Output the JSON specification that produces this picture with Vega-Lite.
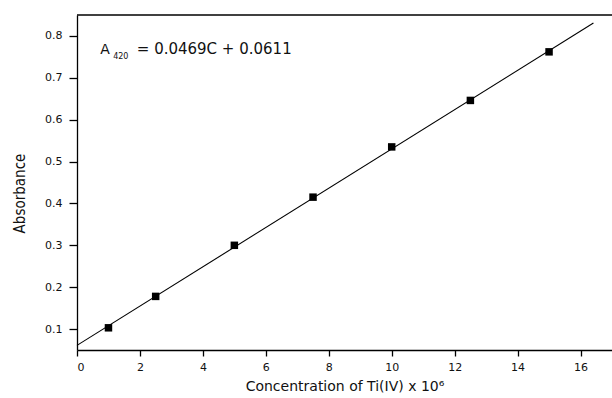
{
  "$schema": "https://vega.github.io/schema/vega-lite/v6.json",
  "width": 535,
  "height": 335,
  "autosize": {"type": "none"},
  "padding": {"left": 77, "top": 15, "right": 0, "bottom": 48},
  "background": "white",
  "config": {
    "view": {"stroke": null},
    "axis": {
      "grid": false,
      "domainColor": "#000000",
      "domainWidth": 1.3,
      "tickColor": "#000000",
      "tickWidth": 1.3,
      "labelColor": "#111111",
      "labelFont": "DejaVu Sans",
      "labelFontSize": 11,
      "titleColor": "#111111",
      "titleFontWeight": "normal"
    }
  },
  "datasets": {
    "points": [
      {"C": 1, "A": 0.103},
      {"C": 2.5, "A": 0.178},
      {"C": 5, "A": 0.300},
      {"C": 7.5, "A": 0.415},
      {"C": 10, "A": 0.535},
      {"C": 12.5, "A": 0.646},
      {"C": 15, "A": 0.762}
    ],
    "fit": [
      {"C": 0, "A": 0.0611},
      {"C": 16.41, "A": 0.8307}
    ],
    "eqMain": [{"C": 0.74, "A": 0.757, "t": "A"}],
    "eqSub": [{"C": 1.15, "A": 0.745, "t": "420"}],
    "eqRest": [{"C": 1.9, "A": 0.757, "t": "= 0.0469C + 0.0611"}]
  },
  "layer": [
    {
      "data": {"name": "fit"},
      "mark": {"type": "line", "color": "#000000", "strokeWidth": 1.1},
      "encoding": {
        "x": {
          "field": "C", "type": "quantitative",
          "scale": {"domain": [0, 17], "nice": false, "zero": false},
          "axis": {
            "title": "Concentration of Ti(IV) x 10⁶",
            "titleFont": "DejaVu Sans",
            "titleFontSize": 14,
            "titlePadding": 7,
            "values": [0, 2, 4, 6, 8, 10, 12, 14, 16],
            "format": "d",
            "tickSize": 6,
            "labelPadding": 5
          }
        },
        "y": {
          "field": "A", "type": "quantitative",
          "scale": {"domain": [0.05, 0.85], "nice": false, "zero": false},
          "axis": {
            "title": "Absorbance",
            "titleFont": "DejaVu Sans Condensed, Roboto, Liberation Sans",
            "titleFontSize": 15,
            "titlePadding": 17,
            "titleY": 178,
            "values": [0.1, 0.2, 0.3, 0.4, 0.5, 0.6, 0.7, 0.8],
            "format": ".1f",
            "tickSize": 8,
            "labelPadding": 7
          }
        }
      }
    },
    {
      "data": {"name": "points"},
      "mark": {"type": "point", "shape": "square", "filled": true, "color": "#000000", "size": 56, "opacity": 1},
      "encoding": {
        "x": {"field": "C", "type": "quantitative"},
        "y": {"field": "A", "type": "quantitative"}
      }
    },
    {
      "data": {"values": [{}]},
      "mark": {"type": "rule", "color": "#000000", "strokeWidth": 1.3},
      "encoding": {
        "x": {"datum": 0},
        "x2": {"datum": 17},
        "y": {"datum": 0.85}
      }
    },
    {
      "data": {"name": "eqMain"},
      "mark": {"type": "text", "align": "left", "baseline": "alphabetic", "font": "DejaVu Sans", "fontSize": 14, "color": "#111111"},
      "encoding": {
        "x": {"field": "C", "type": "quantitative"},
        "y": {"field": "A", "type": "quantitative"},
        "text": {"field": "t"}
      }
    },
    {
      "data": {"name": "eqSub"},
      "mark": {"type": "text", "align": "left", "baseline": "alphabetic", "font": "DejaVu Sans", "fontSize": 8, "color": "#111111"},
      "encoding": {
        "x": {"field": "C", "type": "quantitative"},
        "y": {"field": "A", "type": "quantitative"},
        "text": {"field": "t"}
      }
    },
    {
      "data": {"name": "eqRest"},
      "mark": {"type": "text", "align": "left", "baseline": "alphabetic", "font": "DejaVu Sans", "fontSize": 15, "color": "#111111"},
      "encoding": {
        "x": {"field": "C", "type": "quantitative"},
        "y": {"field": "A", "type": "quantitative"},
        "text": {"field": "t"}
      }
    }
  ]
}
